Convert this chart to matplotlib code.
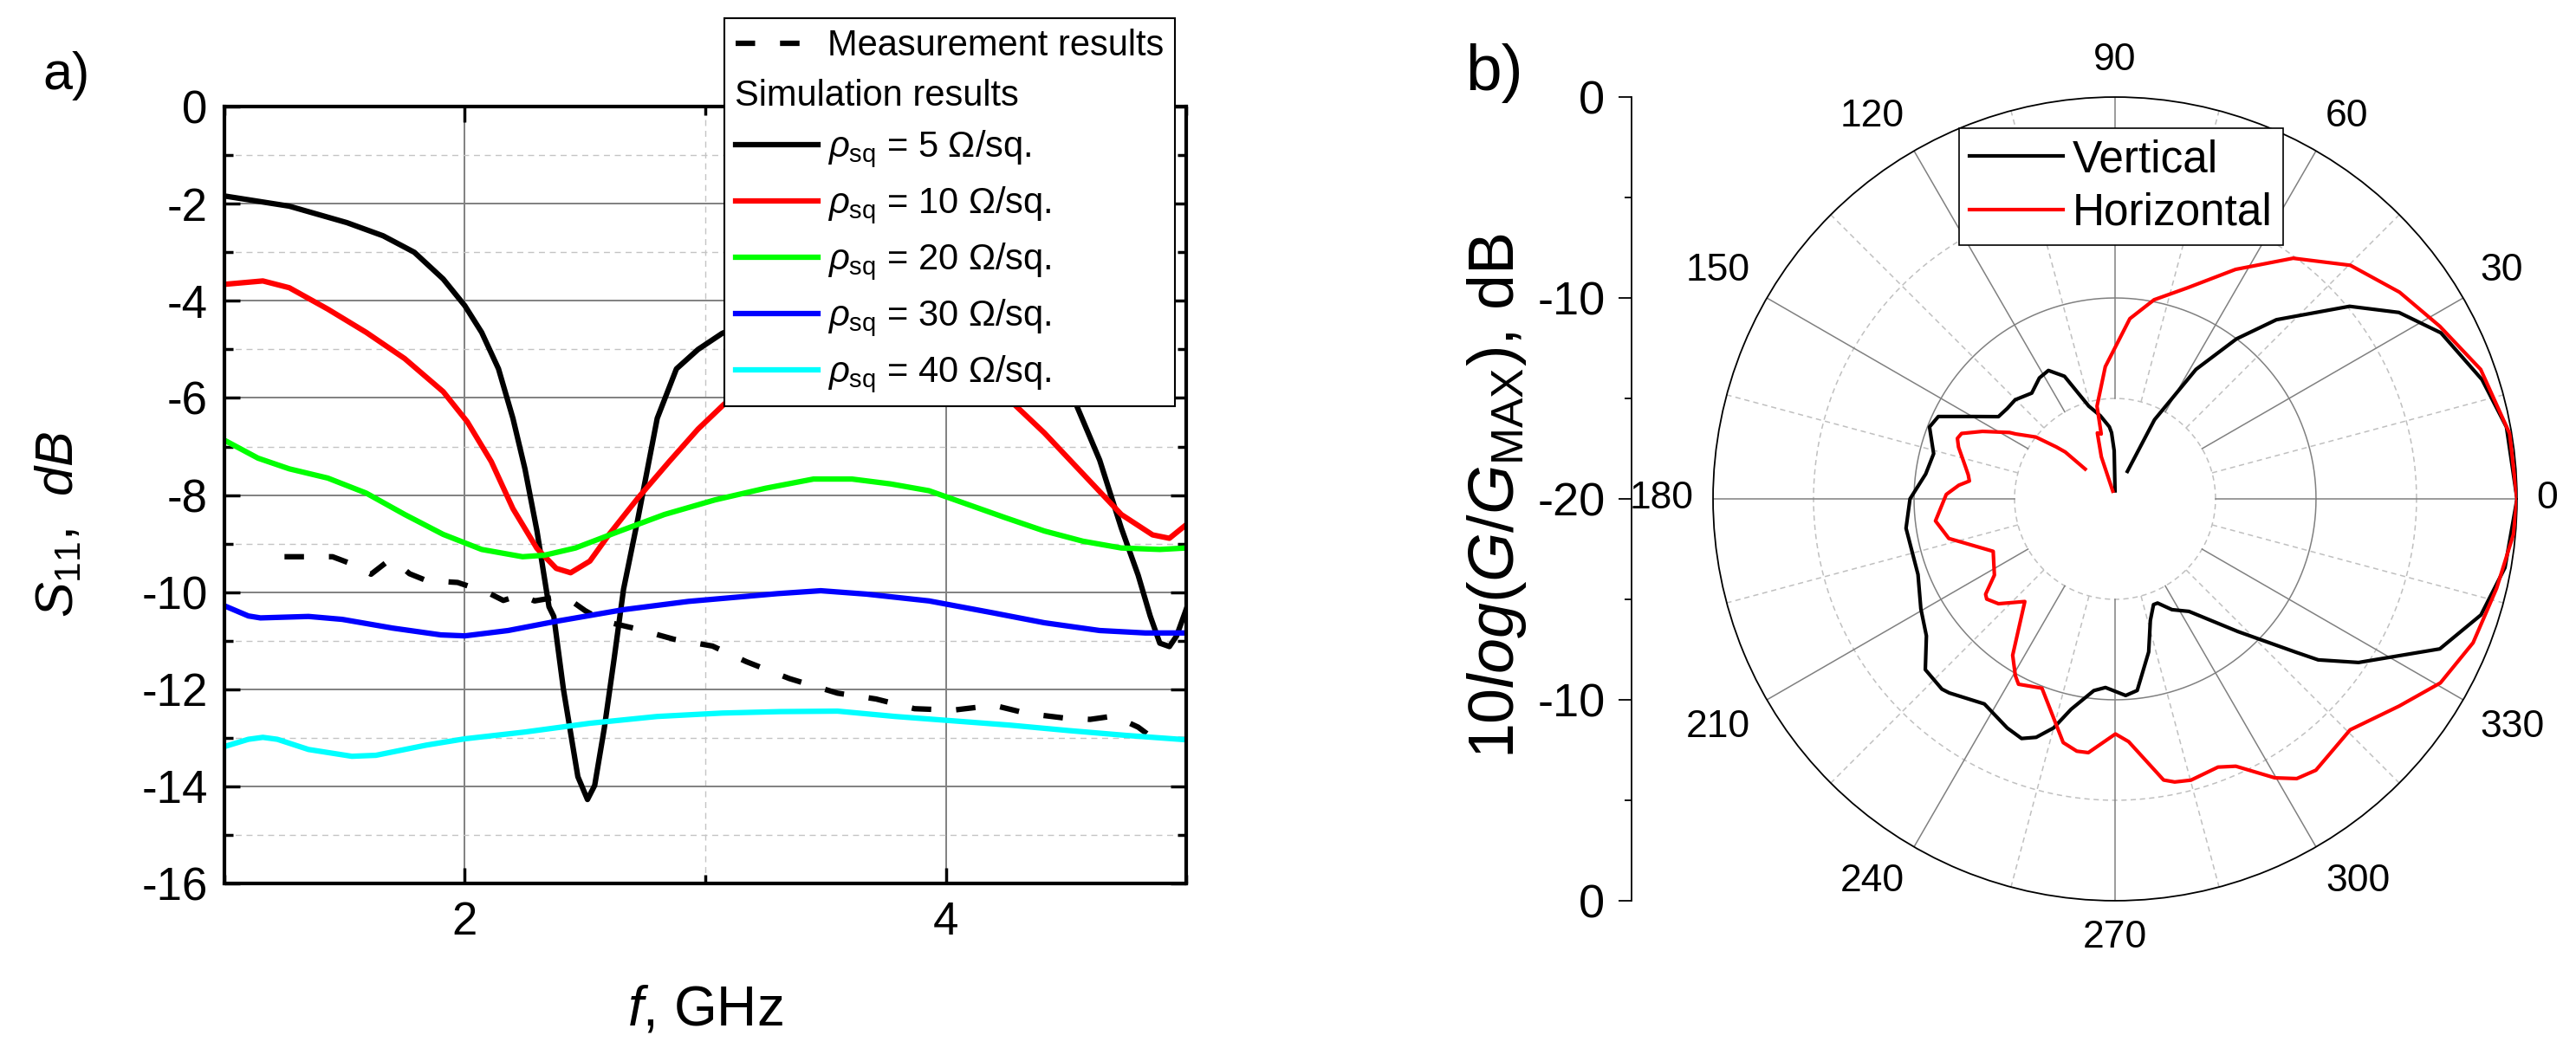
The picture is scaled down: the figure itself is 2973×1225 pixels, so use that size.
import numpy as np
import matplotlib
matplotlib.use('Agg')
import matplotlib.pyplot as plt
from matplotlib.lines import Line2D
from matplotlib.ticker import MultipleLocator, FixedLocator

plt.rcParams['font.family'] = ['Liberation Sans', 'DejaVu Sans']
plt.rcParams['mathtext.fontset'] = 'custom'
plt.rcParams['mathtext.rm'] = 'Liberation Sans'
plt.rcParams['mathtext.it'] = 'Liberation Sans:italic'
plt.rcParams['mathtext.bf'] = 'Liberation Sans:bold'
plt.rcParams['axes.unicode_minus'] = False

# ---------------- a) S11 vs frequency ----------------
f_meas = [1.25, 1.45, 1.53, 1.61, 1.67, 1.71, 1.77, 1.84, 1.97, 2.03, 2.10, 2.16,
          2.23, 2.29, 2.36, 2.44, 2.50, 2.58, 2.71, 2.87, 3.03, 3.17, 3.35, 3.55,
          3.71, 3.87, 4.03, 4.20, 4.34, 4.49, 4.60, 4.70, 4.80, 4.90]
s11_meas = [-9.27, -9.27, -9.42, -9.63, -9.40, -9.37, -9.62, -9.76, -9.80, -9.90,
            -10.02, -10.17, -10.06, -10.18, -10.12, -10.17, -10.38, -10.60, -10.75,
            -10.97, -11.11, -11.43, -11.78, -12.08, -12.20, -12.40, -12.43, -12.33,
            -12.50, -12.59, -12.62, -12.55, -12.78, -13.15]

f_5 = [1.0, 1.27, 1.51, 1.66, 1.79, 1.91, 2.0, 2.07, 2.14, 2.2, 2.25, 2.3, 2.35,
       2.37, 2.41, 2.44, 2.47, 2.51, 2.54, 2.58, 2.62, 2.66, 2.72, 2.80, 2.88,
       2.97, 3.07, 3.3, 3.6, 3.9, 4.2, 4.4, 4.54, 4.64, 4.73, 4.80, 4.85, 4.89,
       4.93, 4.96, 5.0]
s11_5 = [-1.84, -2.05, -2.39, -2.66, -3.0, -3.55, -4.1, -4.65, -5.4, -6.42, -7.46,
         -8.74, -10.3, -10.5, -12.0, -12.9, -13.8, -14.27, -13.98, -12.8, -11.4,
         -9.94, -8.48, -6.42, -5.4, -5.0, -4.67, -4.2, -3.9, -4.2, -4.9, -5.6,
         -6.11, -7.28, -8.68, -9.65, -10.49, -11.05, -11.12, -10.9, -10.35]

f_10 = [1.0, 1.16, 1.27, 1.43, 1.59, 1.75, 1.91, 2.01, 2.11, 2.2, 2.3, 2.38, 2.44,
        2.52, 2.6, 2.72, 2.85, 2.97, 3.08, 3.3, 3.6, 3.9, 4.28, 4.41, 4.57, 4.73,
        4.86, 4.93, 5.0]
s11_10 = [-3.66, -3.59, -3.73, -4.17, -4.65, -5.19, -5.87, -6.49, -7.31, -8.28,
          -9.1, -9.51, -9.6, -9.36, -8.81, -8.06, -7.31, -6.64, -6.12, -5.6, -5.3,
          -5.5, -6.11, -6.72, -7.56, -8.4, -8.82, -8.89, -8.61]

f_20 = [1.0, 1.14, 1.27, 1.43, 1.59, 1.75, 1.91, 2.07, 2.24, 2.33, 2.46, 2.64, 2.83,
        3.04, 3.25, 3.45, 3.61, 3.77, 3.93, 4.09, 4.25, 4.41, 4.57, 4.73, 4.89, 5.0]
s11_20 = [-6.87, -7.24, -7.46, -7.65, -7.96, -8.4, -8.81, -9.12, -9.27, -9.24,
          -9.09, -8.75, -8.4, -8.1, -7.86, -7.67, -7.67, -7.77, -7.91, -8.19,
          -8.47, -8.74, -8.95, -9.09, -9.12, -9.09]

f_30 = [1.0, 1.1, 1.15, 1.35, 1.49, 1.70, 1.9, 2.0, 2.18, 2.38, 2.66, 2.93, 3.3,
        3.48, 3.67, 3.93, 4.19, 4.41, 4.64, 4.83, 5.0]
s11_30 = [-10.28, -10.49, -10.53, -10.5, -10.56, -10.74, -10.88, -10.9, -10.79,
          -10.6, -10.36, -10.19, -10.03, -9.97, -10.04, -10.18, -10.42, -10.63,
          -10.79, -10.84, -10.84]

f_40 = [1.0, 1.1, 1.16, 1.22, 1.35, 1.53, 1.63, 1.84, 2.0, 2.25, 2.52, 2.8, 3.07,
        3.31, 3.55, 3.79, 4.03, 4.27, 4.51, 4.75, 5.0]
s11_40 = [-13.18, -13.03, -12.99, -13.03, -13.24, -13.38, -13.36, -13.15, -13.02,
          -12.88, -12.7, -12.56, -12.49, -12.46, -12.45, -12.56, -12.65, -12.74,
          -12.85, -12.95, -13.04]

sim_labels = [r'$\rho_{\mathrm{sq}}$ = 5 Ω/sq.', r'$\rho_{\mathrm{sq}}$ = 10 Ω/sq.',
              r'$\rho_{\mathrm{sq}}$ = 20 Ω/sq.', r'$\rho_{\mathrm{sq}}$ = 30 Ω/sq.',
              r'$\rho_{\mathrm{sq}}$ = 40 Ω/sq.']
sim_colors = ['#000000', '#ff0000', '#00ff00', '#0000ff', '#00ffff']

# ---------------- b) radiation pattern ----------------
theta_vert = [90, 91, 93, 94.5, 100, 105.8, 112.4, 117.4, 122, 128.2, 135.2, 140,
              144.8, 150, 155, 158.8, 166, 172.5, 180, 188, 201, 209.5, 216, 222,
              227.7, 229.5, 237.5, 244.8, 248.7, 251.7, 255, 258.2, 263.7, 267.1,
              273.1, 276.6, 282.4, 286.2, 290, 292.2, 297.2, 303.3, 312.8, 319.7,
              321.6, 326.1, 335.2, 342.4, 350, 360, 370.4, 378, 387, 393.3, 399.4,
              408, 412.8, 418, 423.5, 425.8]
gain_vert = [-19.6, -17.6, -16.7, -16.4, -15.8, -15.2, -13.4, -12.8, -12.9, -13.3,
             -13.0, -13.0, -12.9, -11.8, -10.3, -10.1, -10.7, -10.5, -9.8, -9.5,
             -9.5, -8.9, -8.4, -7.3, -7.2, -7.3, -7.9, -7.4, -7.2, -7.5, -8.2, -9.3,
             -10.4, -10.6, -10.2, -10.4, -12.2, -13.7, -14.4, -14.4, -13.8, -13.3,
             -11.0, -8.2, -7.1, -5.4, -2.2, -0.9, -0.3, 0.0, -0.2, -0.8, -1.8, -3.1,
             -4.9, -8.0, -10.0, -12.4, -15.6, -18.5]

theta_hor = [135, 136.7, 138.5, 142, 146.8, 147.8, 153, 156.9, 159, 161.7, 168,
             170.7, 173, 175, 178.5, 187, 193.4, 203.3, 212.3, 216.4, 218, 222,
             228.7, 236.8, 240.6, 242.5, 248.9, 258, 261.4, 264, 270.1, 273.2,
             279.8, 281.9, 285.1, 291, 294.3, 299.8, 303, 306.5, 315.5, 323.9,
             330.5, 338.1, 346.8, 354.9, 360, 369.4, 379.5, 388, 396, 404.8, 413.5,
             422.3, 431.1, 438.9, 445.3, 454.2, 461, 462, 465, 468, 466]
gain_hor = [-17.9, -16.6, -16.1, -15.0, -14.1, -13.8, -12.6, -11.7, -11.6, -11.8,
            -12.4, -12.6, -12.7, -12.2, -11.6, -11.0, -11.5, -13.4, -12.9, -12.0,
            -11.9, -12.2, -13.2, -10.7, -9.9, -9.6, -9.9, -7.6, -7.3, -7.3, -8.3,
            -7.9, -5.8, -5.6, -5.5, -5.7, -5.4, -4.0, -3.4, -3.2, -3.6, -2.5, -1.4,
            -0.8, -0.5, -0.1, 0.0, -0.1, -0.7, -1.7, -2.5, -3.5, -5.1, -7.1, -8.9,
            -9.9, -11.0, -13.4, -15.3, -16.7, -16.6, -17.8, -19.6]

theta_ticks = list(range(0, 360, 30))
r_min, r_max = -20, 0

fig = plt.figure(figsize=(29.73, 12.25), dpi=100)
fig.patch.set_facecolor('white')

# ---- panel a ----
ax = fig.add_axes([0.0871, 0.1673, 0.3734, 0.7322])
meas_line, = ax.plot(f_meas, s11_meas, color='black', lw=4.5, dashes=(3.6, 4.6),
                     label='Measurement results')
sim_lines = []
for fx, sy, c, lab in zip([f_5, f_10, f_20, f_30, f_40],
                          [s11_5, s11_10, s11_20, s11_30, s11_40],
                          sim_colors, sim_labels):
    ln, = ax.plot(fx, sy, color=c, lw=4.5, label=lab)
    sim_lines.append(ln)

ax.set_xlim(1, 5)
ax.set_ylim(-16, 0)
ax.xaxis.set_major_locator(MultipleLocator(2))
ax.xaxis.set_minor_locator(MultipleLocator(1))
ax.yaxis.set_major_locator(MultipleLocator(2))
ax.yaxis.set_minor_locator(MultipleLocator(1))
ax.set_axisbelow(True)
ax.grid(which='major', color='#808080', lw=1.4, ls='-')
ax.grid(which='minor', color='#c4c4c4', lw=1.0, ls=(0, (5, 4)))
ax.tick_params(which='both', direction='in', top=True, right=True, width=2.5)
ax.tick_params(which='major', length=13, labelsize=38, pad=14)
ax.tick_params(which='minor', length=7)
for sp in ax.spines.values():
    sp.set_linewidth(3.0)

ax.set_xlabel(r'$f$, GHz', fontsize=46)
ax.xaxis.set_label_coords(0.5, -0.13)
fig.text(0.0232, 1 - 605 / 1225, r'$S_{11}$,  $dB$', rotation=90, fontsize=44,
         ha='center', va='center')
fig.text(0.0165, 0.952, 'a)', fontsize=44, ha='left', va='top')

blank = Line2D([], [], color='none')
leg = ax.legend([meas_line, blank] + sim_lines,
                ['Measurement results', 'Simulation results'] + sim_labels,
                loc='upper left', bbox_to_anchor=(836 / 2973, 1 - 21 / 1225),
                bbox_transform=fig.transFigure, borderaxespad=0, fontsize=30,
                handlelength=2.3, handletextpad=0.26, labelspacing=0.42,
                borderpad=0.3, fancybox=False, framealpha=1, edgecolor='black')
leg.get_frame().set_linewidth(1.5)
# the "Simulation results" header has no handle: pull its text to the left edge
row = leg._legend_handle_box.get_children()[0].get_children()[1]
row.get_children()[0].width = 0
row.sep = 0

# ---- panel b ----
axp = fig.add_axes([0.665, 0.151, 0.3121, 0.7576], projection='polar')
axp.set_ylim(r_min, r_max)
circle = np.linspace(0, 2 * np.pi, 721)
for r, style in [(-15, 'minor'), (-10, 'major'), (-5, 'minor')]:
    if style == 'major':
        axp.plot(circle, np.full_like(circle, r), color='#808080', lw=1.1, zorder=1)
    else:
        axp.plot(circle, np.full_like(circle, r), color='#c0c0c0', lw=1.1,
                 ls=(0, (4, 3)), zorder=1)
for deg in range(0, 360, 15):
    t = np.radians(deg)
    if deg % 30 == 0:
        axp.plot([t, t], [-15, r_max], color='#808080', lw=1.1, zorder=1)
    else:
        axp.plot([t, t], [-15, r_max], color='#c0c0c0', lw=1.1, ls=(0, (4, 3)),
                 zorder=1)

lv, = axp.plot(np.radians(theta_vert), gain_vert, color='black', lw=3.0,
               label='Vertical', zorder=3)
lh, = axp.plot(np.radians(theta_hor), gain_hor, color='#ff0000', lw=3.0,
               label='Horizontal', zorder=3)

axp.grid(False)
axp.set_xticks(np.radians(theta_ticks))
axp.set_xticklabels([])
axp.set_xticks(np.radians(np.arange(15, 360, 30)), minor=True)
axp.tick_params(axis='x', which='both', direction='in', color='black', width=1.2)
axp.tick_params(axis='x', which='major', length=12)
axp.tick_params(axis='x', which='minor', length=8)
axp.set_yticks([])
axp.spines['polar'].set_linewidth(1.3)

# angle labels sit just outside the rim, anchored by their nearest edge
for deg in theta_ticks:
    t = np.radians(deg)
    c, s = np.cos(t), np.sin(t)
    ha = 'left' if c > 0.1 else ('right' if c < -0.1 else 'center')
    va = 'bottom' if s > 0.1 else ('top' if s < -0.1 else 'center')
    axp.annotate(str(deg), xy=(t, r_max), xytext=(16 * c, 16 * s),
                 textcoords='offset points', ha=ha, va=va, fontsize=32,
                 annotation_clip=False)

legp = axp.legend(loc='upper left', bbox_to_anchor=(2261 / 2973, 1 - 148 / 1225),
                  bbox_transform=fig.transFigure, borderaxespad=0, fontsize=37,
                  handlelength=2.1, handletextpad=0.2, labelspacing=0.24,
                  borderpad=0.24, fancybox=False, framealpha=1, edgecolor='black')
legp.get_frame().set_linewidth(1.2)

# radial scale drawn as a separate vertical axis on the left of the polar plot
axr = fig.add_axes([1883 / 2973, 0.151, 0.0005, 0.7576])
axr.patch.set_visible(False)
for side in ['top', 'right', 'bottom']:
    axr.spines[side].set_visible(False)
axr.spines['left'].set_linewidth(1.3)
axr.set_xticks([])
axr.set_ylim(-(r_max - r_min), r_max - r_min)
rvals = [-20, -10, 0, 10, 20]
axr.yaxis.set_major_locator(FixedLocator(rvals))
axr.set_yticklabels(['%g' % (abs(v) + r_min) for v in rvals])
axr.yaxis.set_minor_locator(FixedLocator([-15, -5, 5, 15]))
axr.tick_params(axis='y', which='both', direction='out', width=1.3)
axr.tick_params(axis='y', which='major', length=11, labelsize=39, pad=11)
axr.tick_params(axis='y', which='minor', length=6)

fig.text(1727 / 2973, 1 - 573 / 1225,
         r'$\mathit{10log(G/G}_{\mathrm{MAX}}\mathit{)}$, dB', rotation=90,
         fontsize=53, ha='center', va='center')
fig.text(1691 / 2973, 1 - 50 / 1225, 'b)', fontsize=54, ha='left', va='top')

fig.savefig('out.png', dpi=100)
